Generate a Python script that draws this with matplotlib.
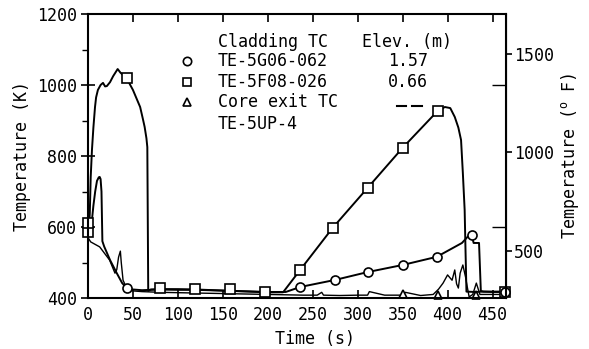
import numpy as np
import matplotlib
matplotlib.use("Agg")
import matplotlib.pyplot as plt

# ---------------- data ----------------
# TE-5F08-026 (square), elevation 0.66 m
sq_t = [0, 1, 2, 3, 4.4, 6, 7.8, 9, 11, 14, 16.7, 19, 21, 24.5, 28, 33, 36, 39, 43, 47,
        50, 54, 58, 61, 63, 65, 66, 67, 70, 80, 100, 120, 140, 160, 180, 200, 217, 236,
        272, 311, 350, 389, 397, 403, 408, 412, 415, 417, 419, 420, 421, 430, 440, 450, 464]
sq_T = [600, 585, 640, 740, 817, 880, 938, 965, 986, 1000, 1006, 996, 997, 1008, 1025, 1045,
        1035, 1028, 1020, 1000, 986, 962, 938, 905, 882, 850, 825, 420, 424, 425, 425, 424,
        422, 420, 418, 416, 416, 479, 597, 710, 823, 927, 938, 935, 910, 880, 845, 752, 648,
        530, 418, 417, 418, 417, 417]
sq_mt = [0.5, 0.5, 43, 80, 119, 158, 197, 236, 272, 311, 350, 389, 464]
sq_mT = [586, 611, 1020, 428, 426, 424, 418, 479, 597, 710, 823, 927, 417]

# TE-5G06-062 (circle), elevation 1.57 m
ci_t = [0, 2, 4.4, 6, 8, 10, 12, 13, 14, 15, 16, 18, 24.5, 32, 38, 43, 50, 60, 80, 100,
        120, 160, 200, 220, 236, 275, 311, 350, 388, 416, 424, 427, 429, 435, 437, 440, 464]
ci_T = [600, 598, 620, 660, 700, 730, 740, 741, 735, 700, 560, 545, 507, 470, 442, 428, 424,
        422, 424, 423, 423, 420, 417, 417, 431, 451, 473, 493, 516, 555, 577, 575, 555, 555,
        420, 418, 418]
ci_mt = [43, 236, 275, 311, 350, 388, 427, 464]
ci_mT = [428, 431, 451, 473, 493, 516, 577, 418]

# TE-5UP-4 (triangle), core exit
tr_t = [0, 3, 13, 24, 30, 32, 34, 36, 37, 39, 43, 50, 60, 80, 100, 120, 140, 160, 180, 200,
        220, 240, 255, 260, 262, 280, 300, 311, 313, 330, 350, 353, 370, 384, 390, 395, 400,
        405, 408, 410, 412, 414, 417, 420, 422, 424, 428, 432, 436, 450, 464]
tr_T = [570, 558, 544, 507, 470, 480, 515, 532, 500, 450, 428, 420, 418, 416, 415, 414, 413,
        412, 411, 410, 409, 408, 408, 416, 408, 407, 408, 408, 418, 408, 408, 416, 407, 410,
        425, 442, 465, 450, 479, 440, 428, 470, 493, 459, 430, 403, 410, 442, 410, 410, 410]
tr_mt = [350, 389, 432]
tr_mT = [412, 408, 408]

x_ticks = [0, 50, 100, 150, 200, 250, 300, 350, 400, 450]
yK_ticks = [400, 600, 800, 1000, 1200]
yF_ticks = [500, 1000, 1500]

legend_rows = [("o", "TE-5G06-062", "1.57"),
               ("s", "TE-5F08-026", "0.66"),
               ("^", "Core exit TC", None)]

# ---------------- plot ----------------
W, H = 589, 349
fig = plt.figure(figsize=(W / 100, H / 100), dpi=100)
ax = fig.add_axes([88 / W, 1 - 298 / H, (506 - 88) / W, (298 - 14) / H])

font = "DejaVu Sans Mono"
fs = 12

lw = 1.4
ms = 6.5
ax.plot(sq_t, sq_T, color="black", lw=lw)
ax.plot(ci_t, ci_T, color="black", lw=lw)
ax.plot(tr_t, tr_T, color="black", lw=1.0)
ax.plot(sq_mt, sq_mT, ls="none", marker="s", ms=ms, mfc="white", mec="black", mew=1.2,
        clip_on=False)
ax.plot(ci_mt, ci_mT, ls="none", marker="o", ms=ms, mfc="white", mec="black", mew=1.2,
        clip_on=False)
ax.plot(tr_mt, tr_mT, ls="none", marker="^", ms=ms - 1, mfc="white", mec="black", mew=1.2,
        clip_on=False)

ax.set_xlim(0, 465)
ax.set_ylim(400, 1200)
ax.set_xticks(x_ticks)
ax.set_yticks(yK_ticks)
ax.set_yticks([500, 700, 900, 1100], minor=True)
for lab in ax.get_xticklabels() + ax.get_yticklabels():
    lab.set_fontfamily(font)
    lab.set_fontsize(fs)
ax.tick_params(axis="x", which="major", direction="in", length=6, width=1.2,
               top=True, bottom=True, pad=6)
ax.tick_params(axis="y", which="major", direction="inout", length=10, width=1.2, pad=3)
ax.tick_params(axis="y", which="minor", direction="out", length=4, width=1.0)
for s in ax.spines.values():
    s.set_linewidth(1.5)

ax.set_xlabel("Time (s)", fontfamily=font, fontsize=fs)
ax.xaxis.set_label_coords((315 - 88) / (506 - 88), -(339 - 298) / (298 - 14))
ax.xaxis.label.set_va("center")
ax.set_ylabel("Temperature (K)", fontfamily=font, fontsize=fs, labelpad=4)

# right axis in deg F
def k2f(k):
    return (np.asarray(k) - 273.15) * 9 / 5 + 32

def f2k(f):
    return (np.asarray(f) - 32) * 5 / 9 + 273.15

ax2 = ax.secondary_yaxis("right", functions=(k2f, f2k))
ax2.set_yticks(yF_ticks)
ax2.set_yticks(k2f([600, 1000]), minor=True)
ax2.tick_params(axis="y", which="major", direction="out", length=4, width=1.2, pad=2)
ax2.tick_params(axis="y", which="minor", direction="in", length=10, width=1.0)
ax2.yaxis.set_minor_formatter(matplotlib.ticker.NullFormatter())
for lab in ax2.get_yticklabels():
    lab.set_fontfamily(font)
    lab.set_fontsize(fs)
ax2.set_ylabel("Temperature ($^{\\mathregular{o}}$ F)", fontfamily=font, fontsize=fs,
               labelpad=3)

# legend block (text in axes pixel positions)
def px(x, y):
    return ((x - 88) / (506 - 88), (298 - y) / (298 - 14))

tk = dict(fontfamily=font, fontsize=fs, transform=ax.transAxes, va="center")
ax.text(*px(218, 42), "Cladding TC", ha="left", **tk)
ax.text(*px(407, 42), "Elev. (m)", ha="center", **tk)
ys = [61, 82, 102]
for (m, name, elev), y in zip(legend_rows, ys):
    ax.plot(*px(187, y), marker=m, ms=ms - 0.5, mfc="white", mec="black", mew=1.2,
            transform=ax.transAxes, ls="none")
    ax.text(*px(218, y), name, ha="left", **tk)
    if elev is not None:
        ax.text(*px(408, y), elev, ha="center", **tk)
    else:
        for x0, x1 in [(397, 406), (412, 422)]:
            ax.plot([px(x0, 106)[0], px(x1, 106)[0]], [px(x0, 106)[1]] * 2,
                    color="black", lw=1.5, transform=ax.transAxes)
ax.text(*px(218, 124), "TE-5UP-4", ha="left", **tk)

fig.savefig("out.png", dpi=100)
